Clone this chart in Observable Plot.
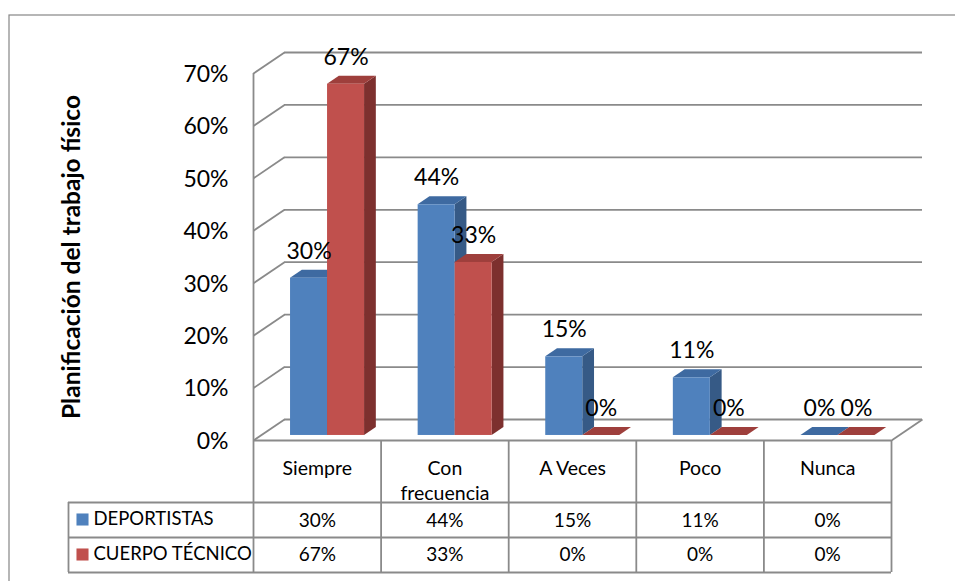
<!DOCTYPE html>
<html>
<head>
<meta charset="utf-8">
<script src="https://cdn.jsdelivr.net/npm/d3@7"></script>
<script src="https://cdn.jsdelivr.net/npm/@observablehq/plot@0.6"></script>
<style>
  html, body { margin: 0; padding: 0; background: #fff; }
  #chart { width: 955px; height: 581px; overflow: hidden; }
</style>
</head>
<body>
<div id="chart"></div>
<script>
// ---- data ----
const categories = ["Siempre", "Con\nfrecuencia", "A Veces", "Poco", "Nunca"];
const seriesNames = ["DEPORTISTAS", "CUERPO TÉCNICO"];
const deportistas = [0.30, 0.44, 0.15, 0.11, 0.00];
const cuerpoTecnico = [0.67, 0.33, 0.00, 0.00, 0.00];
const yTicks = [0, 0.1, 0.2, 0.3, 0.4, 0.5, 0.6, 0.7];
const axisTitle = "Planificación del trabajo físico";

// ---- layout ----
const W = 955, H = 581;
const xRange = [253, 891], yRange = [440, 73];
const xScale = Plot.scale({x: {domain: [0, categories.length], range: xRange}});
const yScale = Plot.scale({y: {domain: [0, 0.7], range: yRange}});
const pxPerX = (xRange[1] - xRange[0]) / categories.length;
const pxPerY = (yRange[0] - yRange[1]) / 0.7;
// floor depth vector (pixels) expressed in data units
const DX = 31 / pxPerX, DY = 21 / pxPerY;
const zf = 0.24, zb = 0.62, dd = zb - zf;   // bar front/back depth
const barW = 0.29;
const seriesOffset = [0.232, 0.522];
const colors = {
  front: ["#4F81BD", "#C0504D"],
  top:   ["#3E6AA1", "#9E3F3C"],
  side:  ["#365A86", "#7D302E"]
};
const gridColor = "#8a8a8a";
const ry = p => yScale.invert(p);   // table rows placed below the floor
const rx = p => xScale.invert(p);
const fmt = d3.format(".0%");

function geom(values, s) {
  return values.map((v, i) => {
    const x1 = i + seriesOffset[s] + zf * DX;
    return {i, v, x1, x2: x1 + barW, yb: zf * DY, yt: v + zf * DY};
  });
}
const seriesValues = [deportistas, cuerpoTecnico];
const barMarks = [];
seriesValues.forEach((vals, s) => {
  const g = geom(vals, s);
  const side = g.flatMap(d => [
    {i: d.i, x: d.x2, y1: d.yb, y2: d.yt},
    {i: d.i, x: d.x2 + dd * DX, y1: d.yb + dd * DY, y2: d.yt + dd * DY}
  ]);
  const top = g.flatMap(d => [
    {i: d.i, y: d.yt, x1: d.x1, x2: d.x2},
    {i: d.i, y: d.yt + dd * DY, x1: d.x1 + dd * DX, x2: d.x2 + dd * DX}
  ]);
  barMarks.push(
    Plot.areaY(side, {x: "x", y1: "y1", y2: "y2", z: "i", fill: colors.side[s]}),
    Plot.areaX(top, {y: "y", x1: "x1", x2: "x2", z: "i", fill: colors.top[s]}),
    Plot.rect(g, {x1: "x1", x2: "x2", y1: "yb", y2: "yt", fill: colors.front[s]})
  );
});
const labelMarks = seriesValues.map((vals, s) => Plot.text(geom(vals, s), {
  x: d => (d.x1 + d.x2) / 2, y: "yt", dy: -27, text: d => fmt(d.v),
  fontSize: 23, fill: "#000"
}));

const tableBottom = ry(572);
const lineStyle = {stroke: gridColor, strokeWidth: 1.8};

const plot = Plot.plot({
  width: W, height: H,
  marginTop: 0, marginRight: 0, marginBottom: 0, marginLeft: 0,
  x: {domain: [0, categories.length], range: xRange, axis: null},
  y: {domain: [0, 0.7], range: yRange, axis: null},
  style: {fontFamily: "Lato, 'Open Sans', sans-serif", background: "#fff", color: "#000"},
  marks: [
    Plot.frame({stroke: "#868686", strokeWidth: 1.2, insetLeft: 8.5, insetTop: 14.5, insetRight: -20, insetBottom: -20}),
    // back wall gridlines
    Plot.ruleY(yTicks, {y: d => d + DY, x1: DX, x2: categories.length + DX, ...lineStyle}),
    // left wall diagonals
    Plot.link(yTicks, {x1: 0, y1: d => d, x2: DX, y2: d => d + DY, ...lineStyle}),
    // left wall front edge (continues into the table)
    Plot.ruleX([0], {y1: 0.7, y2: tableBottom, ...lineStyle}),
    // floor front edge and right edge
    Plot.ruleY([0], {x1: 0, x2: categories.length, ...lineStyle}),
    Plot.link([0], {x1: categories.length, y1: 0, x2: categories.length + DX, y2: DY, ...lineStyle}),
    // table grid
    Plot.ruleX(d3.range(1, categories.length + 1), {y1: 0, y2: tableBottom, ...lineStyle}),
    Plot.ruleY([ry(502), ry(537), tableBottom], {x1: rx(68), x2: categories.length, ...lineStyle}),
    Plot.ruleX([rx(68)], {y1: ry(502), y2: tableBottom, ...lineStyle}),
    // bars
    ...barMarks,
    // data labels
    ...labelMarks,
    // y tick labels
    Plot.text(yTicks, {x: 0, y: d => d, dx: -25, dy: 1, textAnchor: "end", text: fmt, fontSize: 23, fill: "#000"}),
    // axis title
    Plot.text([axisTitle], {x: 0, y: 0.35, dx: -181, rotate: -90, fontSize: 24.5, fontWeight: "bold", fill: "#000"}),
    // table header
    Plot.text(categories, {x: (d, i) => i + 0.5, y: ry(456), lineAnchor: "top", lineHeight: 1.3, fontSize: 19.5, fill: "#000"}),
    // table values
    Plot.text(deportistas, {x: (d, i) => i + 0.5, y: ry(520), text: fmt, fontSize: 19, fill: "#000"}),
    Plot.text(cuerpoTecnico, {x: (d, i) => i + 0.5, y: ry(554), text: fmt, fontSize: 19, fill: "#000"}),
    // legend cells
    Plot.dot(seriesNames, {x: 0, dx: -171, y: (d, i) => [ry(519), ry(554)][i], symbol: "square", r: 6.8, fill: (d, i) => colors.front[i], stroke: null}),
    Plot.text(seriesNames, {x: 0, dx: -160, y: (d, i) => [ry(519), ry(554)][i], textAnchor: "start", fontSize: 18.5, fill: "#000"})
  ]
});
document.getElementById("chart").appendChild(plot);
</script>
</body>
</html>
